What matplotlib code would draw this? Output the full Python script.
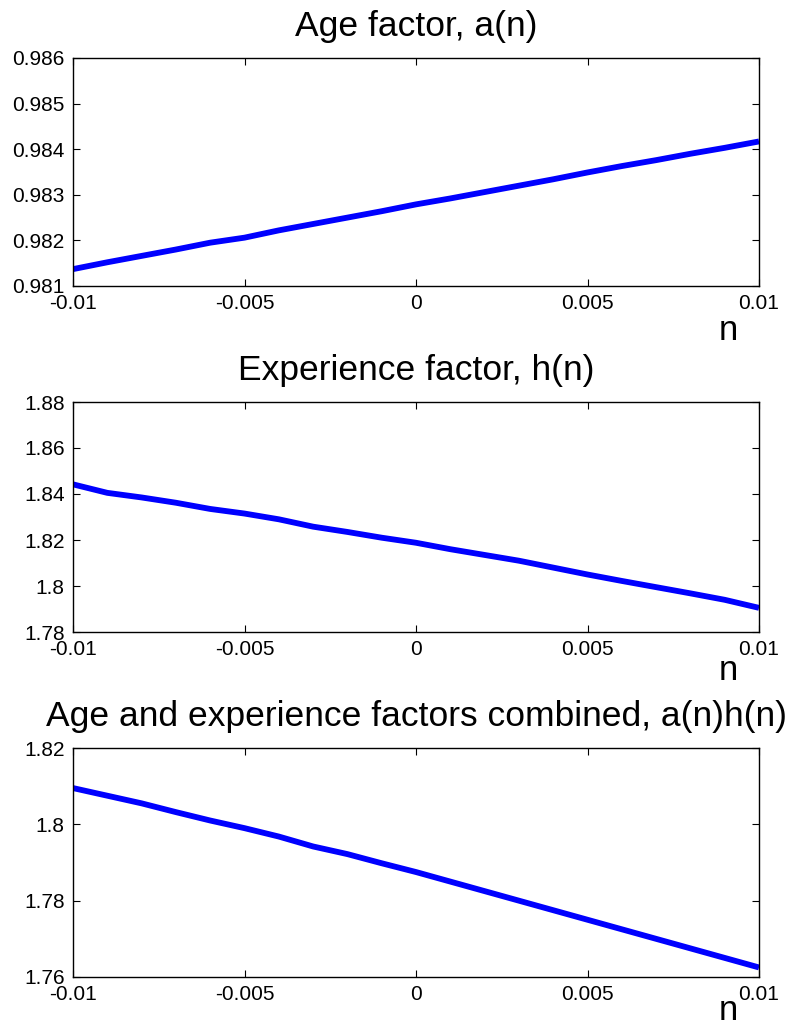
import numpy as np
import matplotlib
matplotlib.use("Agg")
import matplotlib.pyplot as plt

plt.rcParams["font.family"] = ["Liberation Sans", "DejaVu Sans"]

# ===========================
# DATA
# ===========================
n_vals = [-0.010, -0.009, -0.008, -0.007, -0.006, -0.005, -0.004, -0.003, -0.002, -0.001,
          0.000, 0.001, 0.002, 0.003, 0.004, 0.005, 0.006, 0.007, 0.008, 0.009, 0.010]

age_factor = [0.98137, 0.98152, 0.98166, 0.98180, 0.98195, 0.98206, 0.98222, 0.98236,
              0.98250, 0.98264, 0.98279, 0.98292, 0.98306, 0.98320, 0.98334, 0.98349,
              0.98363, 0.98376, 0.98390, 0.98403, 0.98417]

exp_factor = [1.8442, 1.8405, 1.8385, 1.8362, 1.8335, 1.8315, 1.8290, 1.8258, 1.8235,
              1.8210, 1.8188, 1.8160, 1.8135, 1.8110, 1.8080, 1.8050, 1.8022, 1.7995,
              1.7968, 1.7940, 1.7905]

combined = [1.8095, 1.8075, 1.8055, 1.8032, 1.8010, 1.7990, 1.7968, 1.7942, 1.7922,
            1.7898, 1.7875, 1.7850, 1.7825, 1.7800, 1.7775, 1.7750, 1.7725, 1.7700,
            1.7675, 1.7650, 1.7625]

x_ticks = [-0.01, -0.005, 0, 0.005, 0.01]
x_tick_labels = ["-0.01", "-0.005", "0", "0.005", "0.01"]

titles = ["Age factor, a(n)",
          "Experience factor, h(n)",
          "Age and experience factors combined, a(n)h(n)"]

y_ticks = [[0.981, 0.982, 0.983, 0.984, 0.985, 0.986],
           [1.78, 1.80, 1.82, 1.84, 1.86, 1.88],
           [1.76, 1.78, 1.80, 1.82]]
y_tick_labels = [["0.981", "0.982", "0.983", "0.984", "0.985", "0.986"],
                 ["1.78", "1.8", "1.82", "1.84", "1.86", "1.88"],
                 ["1.76", "1.78", "1.8", "1.82"]]

series = [age_factor, exp_factor, combined]

# ===========================
# FIGURE
# ===========================
W, H = 798, 1027
fig = plt.figure(figsize=(W / 100, H / 100), dpi=100)

left, right = 73, 759
boxes = [(58, 286), (402, 632), (748, 977)]
n_offsets = [45, 39, 34]

for i, (top, bottom) in enumerate(boxes):
    ax = fig.add_axes([left / W, 1 - bottom / H, (right - left) / W, (bottom - top) / H])

    ax.plot(n_vals, series[i], color="#0000ff", lw=4.2, solid_capstyle="butt")

    ax.set_xlim(-0.01, 0.01)
    ax.set_ylim(y_ticks[i][0], y_ticks[i][-1])
    ax.set_xticks(x_ticks)
    ax.set_xticklabels(x_tick_labels)
    ax.set_yticks(y_ticks[i])
    ax.set_yticklabels(y_tick_labels[i])

    ax.tick_params(direction="in", length=5, width=0.8, labelsize=15,
                   top=True, right=True, pad=6)
    for sp in ax.spines.values():
        sp.set_linewidth(1.0)

    ax.annotate(titles[i], xy=(0.5, 1), xycoords="axes fraction",
                xytext=(0, 22), textcoords="offset pixels",
                ha="center", va="baseline", fontsize=25.5)

    ax.annotate("n", xy=(0.956, 0), xycoords="axes fraction",
                xytext=(0, -n_offsets[i]), textcoords="offset pixels",
                ha="center", va="center", fontsize=25)

fig.savefig("out.png", dpi=100, facecolor="white")
